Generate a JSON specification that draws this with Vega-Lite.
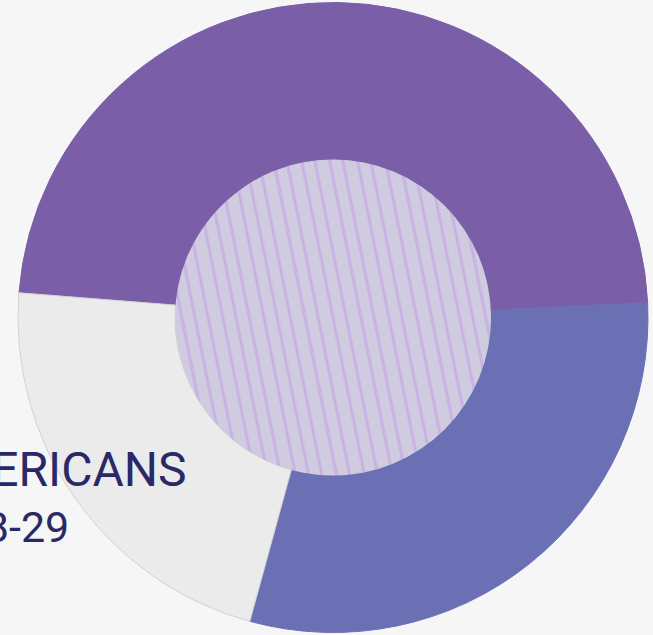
{
  "$schema": "https://vega.github.io/schema/vega-lite/v6.json",
  "autosize": {"type": "none"},
  "width": 640,
  "height": 635,
  "padding": {"left": 13, "top": 0, "right": 0, "bottom": 0},
  "background": "#f6f6f6",
  "config": {"view": {"stroke": null}},
  "title": {
    "text": "AMERICANS",
    "subtitle": "\u200b\u00a0\u00a0\u00a0\u00a018-29",
    "anchor": "start",
    "frame": "group",
    "orient": "top",
    "align": "left",
    "baseline": "top",
    "font": "Roboto",
    "fontSize": 48,
    "fontWeight": "normal",
    "color": "#2a2866",
    "subtitleFont": "Roboto",
    "subtitleFontSize": 43,
    "subtitleFontWeight": "normal",
    "subtitleColor": "#2a2866",
    "subtitlePadding": 12,
    "offset": 0,
    "dx": -95,
    "dy": 551
  },
  "layer": [
    {
      "data": {"values": [
        {"group": "Group 1", "share": 48, "rank": 1},
        {"group": "Group 2", "share": 30, "rank": 2},
        {"group": "Group 3", "share": 22, "rank": 3}
      ]},
      "mark": {"type": "arc", "innerRadius": 158, "outerRadius": 315, "strokeWidth": 1},
      "encoding": {
        "theta": {"field": "share", "type": "quantitative", "scale": {"range": [4.791, 11.0742]}},
        "order": {"field": "rank", "type": "quantitative"},
        "color": {"field": "group", "type": "nominal", "legend": null,
          "scale": {"domain": ["Group 1", "Group 2", "Group 3"], "range": ["#7a5ea8", "#6b70b4", "#ebebeb"]}},
        "stroke": {"field": "group", "type": "nominal", "legend": null,
          "scale": {"domain": ["Group 1", "Group 2", "Group 3"], "range": ["#7a5ea8", "#6b70b4", "#d2d2d2"]}}
      }
    },
    {
      "data": {"values": [{"part": "center"}]},
      "mark": {
        "type": "arc", "theta": 0, "theta2": 6.2832, "outerRadius": 158,
        "fill": {
          "gradient": "linear", "x1": 0, "y1": 0.6, "x2": 1, "y2": 0.4,
          "stops": [
            {"offset": 0, "color": "#cfcce0"},
            {"offset": 0.033, "color": "#cfcce0"}, {"offset": 0.037, "color": "#c9b3e2"}, {"offset": 0.043, "color": "#c9b3e2"}, {"offset": 0.047, "color": "#cfcce0"},
            {"offset": 0.073, "color": "#cfcce0"}, {"offset": 0.077, "color": "#c9b3e2"}, {"offset": 0.083, "color": "#c9b3e2"}, {"offset": 0.087, "color": "#cfcce0"},
            {"offset": 0.113, "color": "#cfcce0"}, {"offset": 0.117, "color": "#c9b3e2"}, {"offset": 0.123, "color": "#c9b3e2"}, {"offset": 0.127, "color": "#cfcce0"},
            {"offset": 0.158, "color": "#cfcce0"}, {"offset": 0.162, "color": "#c9b3e2"}, {"offset": 0.168, "color": "#c9b3e2"}, {"offset": 0.172, "color": "#cfcce0"},
            {"offset": 0.198, "color": "#cfcce0"}, {"offset": 0.202, "color": "#c9b3e2"}, {"offset": 0.208, "color": "#c9b3e2"}, {"offset": 0.212, "color": "#cfcce0"},
            {"offset": 0.238, "color": "#cfcce0"}, {"offset": 0.242, "color": "#c9b3e2"}, {"offset": 0.248, "color": "#c9b3e2"}, {"offset": 0.252, "color": "#cfcce0"},
            {"offset": 0.283, "color": "#cfcce0"}, {"offset": 0.287, "color": "#c9b3e2"}, {"offset": 0.293, "color": "#c9b3e2"}, {"offset": 0.297, "color": "#cfcce0"},
            {"offset": 0.323, "color": "#cfcce0"}, {"offset": 0.327, "color": "#c9b3e2"}, {"offset": 0.333, "color": "#c9b3e2"}, {"offset": 0.337, "color": "#cfcce0"},
            {"offset": 0.363, "color": "#cfcce0"}, {"offset": 0.367, "color": "#c9b3e2"}, {"offset": 0.373, "color": "#c9b3e2"}, {"offset": 0.377, "color": "#cfcce0"},
            {"offset": 0.408, "color": "#cfcce0"}, {"offset": 0.412, "color": "#c9b3e2"}, {"offset": 0.418, "color": "#c9b3e2"}, {"offset": 0.422, "color": "#cfcce0"},
            {"offset": 0.448, "color": "#cfcce0"}, {"offset": 0.452, "color": "#c9b3e2"}, {"offset": 0.458, "color": "#c9b3e2"}, {"offset": 0.462, "color": "#cfcce0"},
            {"offset": 0.493, "color": "#cfcce0"}, {"offset": 0.497, "color": "#c9b3e2"}, {"offset": 0.503, "color": "#c9b3e2"}, {"offset": 0.507, "color": "#cfcce0"},
            {"offset": 0.533, "color": "#cfcce0"}, {"offset": 0.537, "color": "#c9b3e2"}, {"offset": 0.543, "color": "#c9b3e2"}, {"offset": 0.547, "color": "#cfcce0"},
            {"offset": 0.578, "color": "#cfcce0"}, {"offset": 0.582, "color": "#c9b3e2"}, {"offset": 0.588, "color": "#c9b3e2"}, {"offset": 0.592, "color": "#cfcce0"},
            {"offset": 0.618, "color": "#cfcce0"}, {"offset": 0.622, "color": "#c9b3e2"}, {"offset": 0.628, "color": "#c9b3e2"}, {"offset": 0.632, "color": "#cfcce0"},
            {"offset": 0.663, "color": "#cfcce0"}, {"offset": 0.667, "color": "#c9b3e2"}, {"offset": 0.673, "color": "#c9b3e2"}, {"offset": 0.677, "color": "#cfcce0"},
            {"offset": 0.703, "color": "#cfcce0"}, {"offset": 0.707, "color": "#c9b3e2"}, {"offset": 0.713, "color": "#c9b3e2"}, {"offset": 0.717, "color": "#cfcce0"},
            {"offset": 0.748, "color": "#cfcce0"}, {"offset": 0.752, "color": "#c9b3e2"}, {"offset": 0.758, "color": "#c9b3e2"}, {"offset": 0.762, "color": "#cfcce0"},
            {"offset": 0.793, "color": "#cfcce0"}, {"offset": 0.797, "color": "#c9b3e2"}, {"offset": 0.803, "color": "#c9b3e2"}, {"offset": 0.807, "color": "#cfcce0"},
            {"offset": 0.833, "color": "#cfcce0"}, {"offset": 0.837, "color": "#c9b3e2"}, {"offset": 0.843, "color": "#c9b3e2"}, {"offset": 0.847, "color": "#cfcce0"},
            {"offset": 0.878, "color": "#cfcce0"}, {"offset": 0.882, "color": "#c9b3e2"}, {"offset": 0.888, "color": "#c9b3e2"}, {"offset": 0.892, "color": "#cfcce0"},
            {"offset": 0.918, "color": "#cfcce0"}, {"offset": 0.922, "color": "#c9b3e2"}, {"offset": 0.928, "color": "#c9b3e2"}, {"offset": 0.932, "color": "#cfcce0"},
            {"offset": 0.958, "color": "#cfcce0"}, {"offset": 0.962, "color": "#c9b3e2"}, {"offset": 0.968, "color": "#c9b3e2"}, {"offset": 0.972, "color": "#cfcce0"},
            {"offset": 1, "color": "#cfcce0"}
          ]
        }
      }
    }
  ]
}
